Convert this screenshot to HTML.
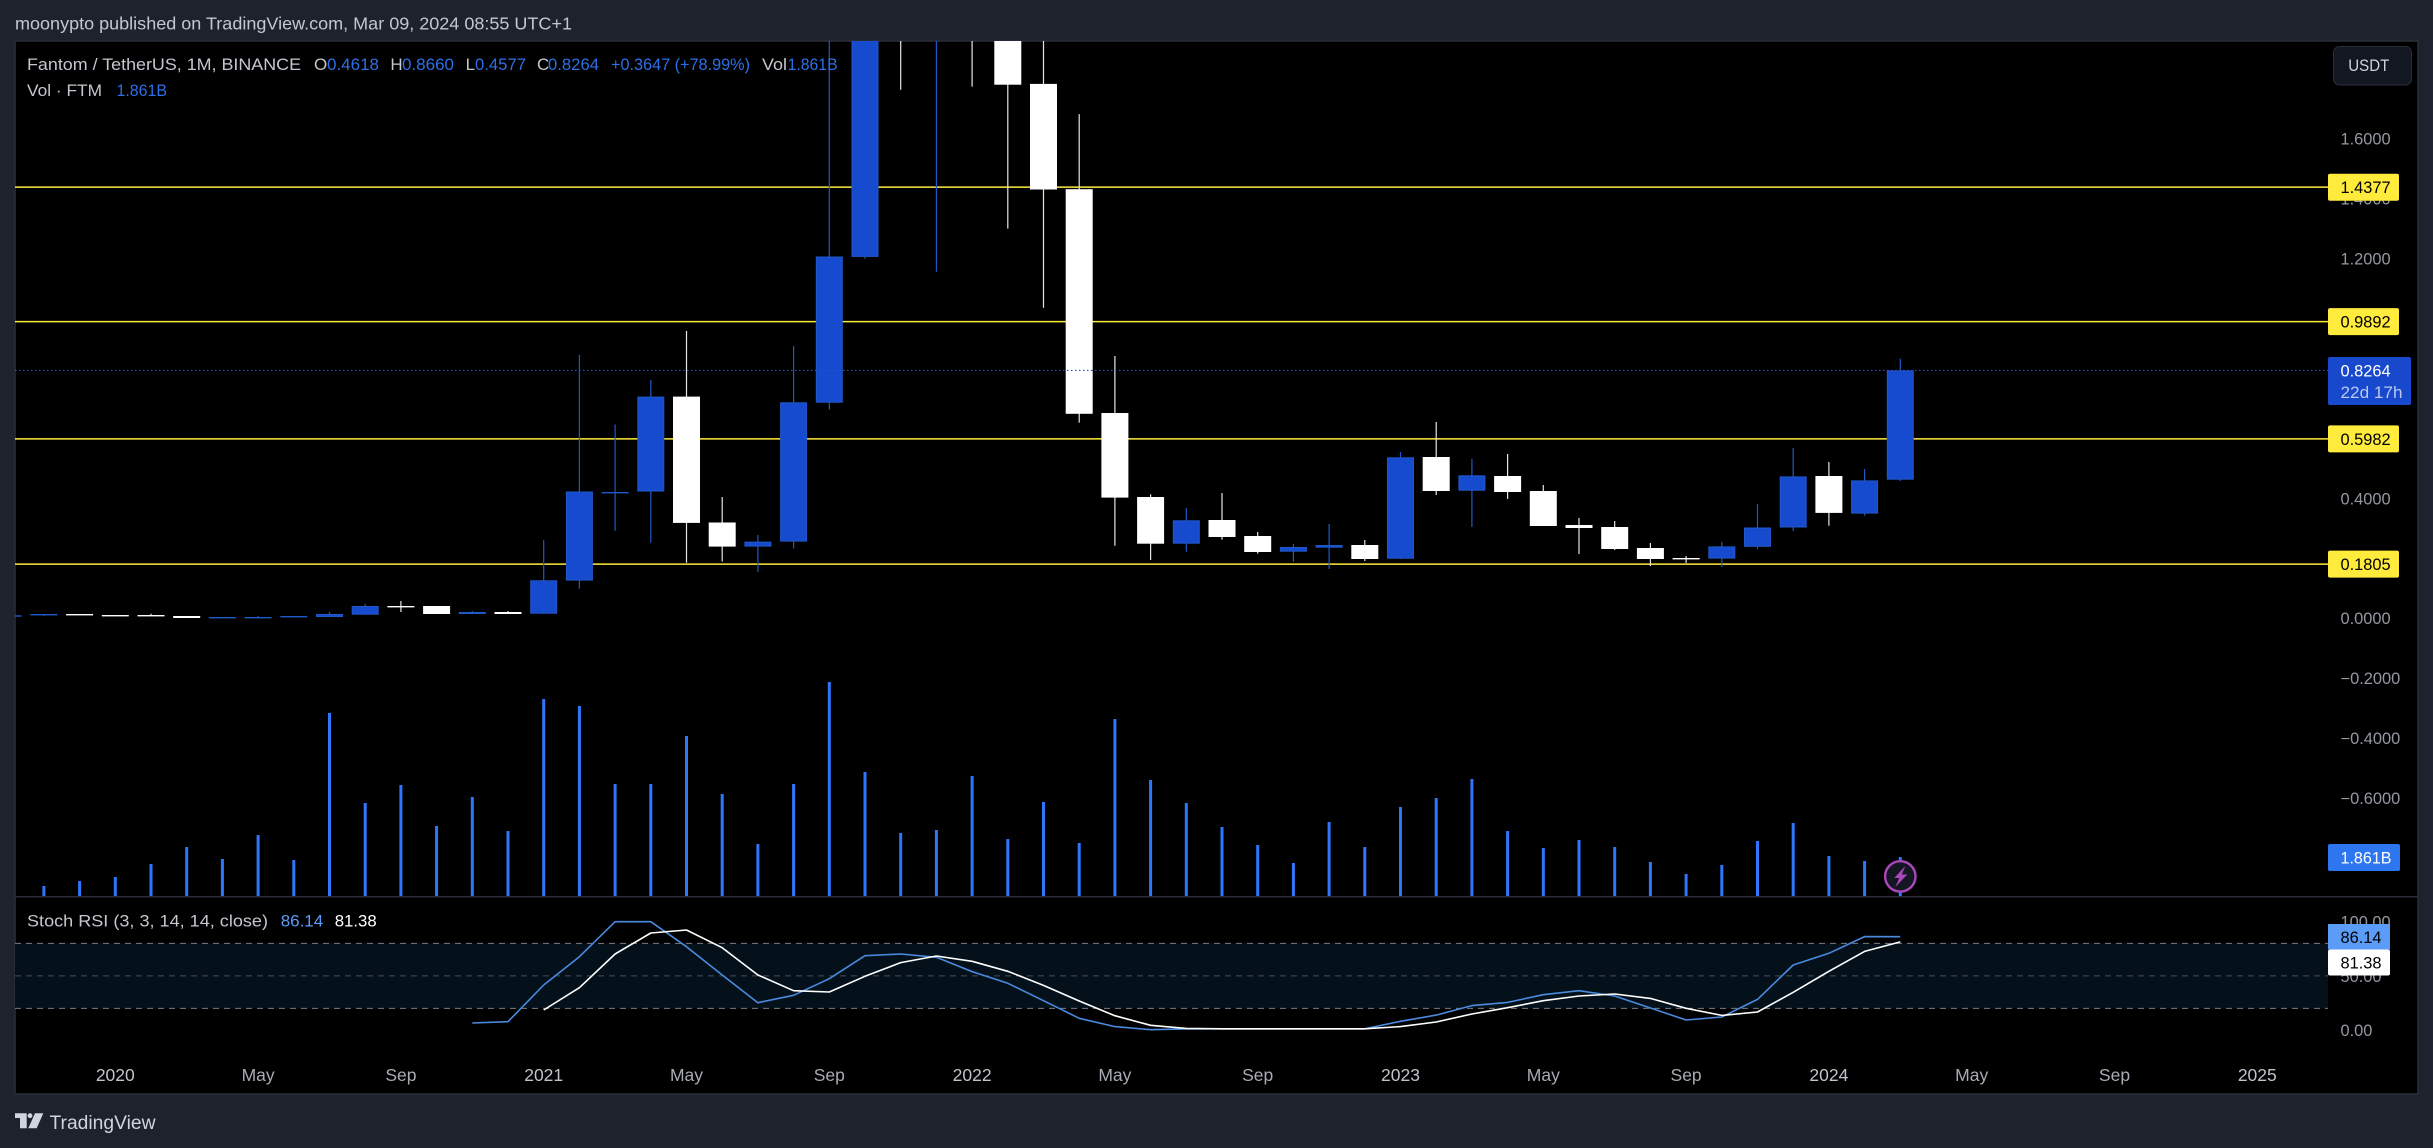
<!DOCTYPE html>
<html lang="en">
<head>
<meta charset="utf-8">
<title>Fantom / TetherUS chart</title>
<style>
  html,body{margin:0;padding:0;background:#1e222d;width:2433px;height:1148px;overflow:hidden}
  svg{display:block;font-family:"Liberation Sans",sans-serif}
</style>
</head>
<body>
<svg id="chart" xmlns="http://www.w3.org/2000/svg" width="2433" height="1148" viewBox="0 0 2433 1148">
  <defs>
    <clipPath id="pane-clip"><rect x="15" y="41" width="2313" height="855"></rect></clipPath>
  </defs>
  <rect x="0" y="0" width="2433" height="1148" fill="#1e222d"></rect>
  <text x="15" y="29.5" font-size="17.5" fill="#c4c7ce" textLength="557" lengthAdjust="spacingAndGlyphs">moonypto published on TradingView.com, Mar 09, 2024 08:55 UTC+1</text>
  <rect x="15" y="41" width="2403" height="1053" fill="#000" stroke="#2a2e39" stroke-width="1.5"></rect>
  <rect x="15" y="896" width="2403" height="1.5" fill="#2a2e39"></rect>

  <g id="stoch-layer"></g>
  <g id="main-layer" clip-path="url(#pane-clip)"></g>
  <g id="axis-layer"></g>
  <g id="label-layer"></g>

  <g font-size="17">
    <text x="27" y="70" fill="#c4c7ce" textLength="274" lengthAdjust="spacingAndGlyphs">Fantom / TetherUS, 1M, BINANCE</text>
    <text x="314" y="70" fill="#c4c7ce">O</text>
    <text x="327" y="70" fill="#2e6fe6" textLength="52" lengthAdjust="spacingAndGlyphs">0.4618</text>
    <text x="390.4" y="70" fill="#c4c7ce">H</text>
    <text x="402" y="70" fill="#2e6fe6" textLength="52" lengthAdjust="spacingAndGlyphs">0.8660</text>
    <text x="465.6" y="70" fill="#c4c7ce">L</text>
    <text x="475" y="70" fill="#2e6fe6" textLength="51" lengthAdjust="spacingAndGlyphs">0.4577</text>
    <text x="537" y="70" fill="#c4c7ce">C</text>
    <text x="548" y="70" fill="#2e6fe6" textLength="51" lengthAdjust="spacingAndGlyphs">0.8264</text>
    <text x="611" y="70" fill="#2e6fe6" textLength="139" lengthAdjust="spacingAndGlyphs">+0.3647 (+78.99%)</text>
    <text x="762" y="70" fill="#c4c7ce" textLength="25" lengthAdjust="spacingAndGlyphs">Vol</text>
    <text x="787.6" y="70" fill="#2e6fe6" textLength="50" lengthAdjust="spacingAndGlyphs">1.861B</text>
    <text x="27" y="96" fill="#c4c7ce" textLength="75" lengthAdjust="spacingAndGlyphs">Vol · FTM</text>
    <text x="116.5" y="96" fill="#2e6fe6" textLength="50.5" lengthAdjust="spacingAndGlyphs">1.861B</text>
  </g>
  <g font-size="17">
    <text x="27" y="926.5" fill="#c4c7ce" textLength="241" lengthAdjust="spacingAndGlyphs">Stoch RSI (3, 3, 14, 14, close)</text>
    <text x="280.7" y="926.5" fill="#5b9cf6" textLength="42.5" lengthAdjust="spacingAndGlyphs">86.14</text>
    <text x="334.7" y="926.5" fill="#ffffff" textLength="42" lengthAdjust="spacingAndGlyphs">81.38</text>
  </g>

  <g>
    <rect x="2333.5" y="46.5" width="78" height="38.5" rx="6" fill="#131722" stroke="#2a2e39" stroke-width="1"></rect>
    <text x="2348.3" y="71" font-size="17" fill="#d1d4dc" textLength="41" lengthAdjust="spacingAndGlyphs">USDT</text>
  </g>

  <g>
    <polygon points="15,1113.3 26.7,1113.3 26.7,1128.3 20,1128.3 20,1118 15,1118" fill="#d1d4dc"></polygon>
    <circle cx="30" cy="1115.7" r="2.4" fill="#d1d4dc"></circle>
    <polygon points="43.3,1113.3 36.7,1128.3 28.3,1128.3 35,1113.3" fill="#d1d4dc"></polygon>
    <text x="49.5" y="1129" font-size="19" fill="#d1d4dc" textLength="106" lengthAdjust="spacingAndGlyphs">TradingView</text>
  </g>
</svg>

<script>
// ---- chart data ----
const categories = ["2019-10","2019-11","2019-12","2020-01","2020-02","2020-03","2020-04","2020-05","2020-06","2020-07","2020-08","2020-09","2020-10","2020-11","2020-12","2021-01","2021-02","2021-03","2021-04","2021-05","2021-06","2021-07","2021-08","2021-09","2021-10","2021-11","2021-12","2022-01","2022-02","2022-03","2022-04","2022-05","2022-06","2022-07","2022-08","2022-09","2022-10","2022-11","2022-12","2023-01","2023-02","2023-03","2023-04","2023-05","2023-06","2023-07","2023-08","2023-09","2023-10","2023-11","2023-12","2024-01","2024-02","2024-03"];
const opens  = [.0087,.0107,.0140,.0107,.0107,.0073,.0007,.0007,.0040,.0040,.0117,.0407,.0407,.0140,.0207,.0150,.1254,.4199,.4226,.7392,.3192,.2388,.2555,.7188,1.2051,2.95,2.05,2.45,2.05,1.7822,1.4310,.6845,.4043,.2485,.3276,.2742,.2218,.2352,.2442,.1985,.5377,.4253,.4743,.4243,.3109,.3042,.2342,.2008,.1988,.2382,.3025,.4743,.3489,.4618];
const highs  = [.0097,.0140,.0140,.0107,.0150,.0073,.0040,.0073,.0073,.0207,.0474,.0574,.0407,.0240,.0240,.2608,.8782,.6461,.7945,.9580,.4043,.2775,.9079,2.2,3.2,3.47,2.6,3.0,2.4,2.05,1.6815,.8746,.4133,.3676,.4176,.2875,.2475,.3142,.2608,.5544,.6544,.5310,.5477,.4443,.3342,.3242,.2508,.2075,.2542,.3809,.5677,.5210,.4977,.8660];
const lows   = [.0087,.0073,.0107,.0073,.0073,.0007,.0007,.0007,.0040,.0040,.0117,.0207,.0140,.0140,.0140,.0140,.0984,.2912,.2515,.1851,.1891,.1544,.2325,.6958,1.1988,1.7629,1.1554,1.7732,1.2995,1.0354,.6524,.2415,.1941,.2218,.2618,.2151,.1885,.1641,.1908,.1975,.4109,.3042,.3976,.3075,.2141,.2275,.1741,.1841,.1708,.2308,.2909,.3085,.3419,.4577];
const closes = [.0097,.0140,.0107,.0073,.0073,.0007,.0040,.0040,.0073,.0140,.0407,.0374,.0140,.0207,.0140,.1264,.4226,.4209,.7392,.3179,.2388,.2555,.7201,1.2065,2.95,2.45,2.45,2.05,1.7795,1.4299,.6818,.4023,.2485,.3266,.2709,.2208,.2375,.2442,.1975,.5367,.4243,.4767,.4209,.3075,.3009,.2308,.1975,.1975,.2395,.3025,.4730,.3512,.4596,.8264];
const volumes = [0,.477,.716,.906,1.527,2.338,1.765,2.910,1.718,8.731,4.437,5.296,3.340,4.723,3.101,9.399,9.065,5.344,5.344,7.634,4.866,2.481,5.344,10.21,5.916,3.006,3.149,5.725,2.719,4.485,2.529,8.445,5.534,4.437,3.292,2.433,1.574,3.531,2.338,4.246,4.676,5.582,3.101,2.290,2.672,2.338,1.622,1.050,1.479,2.624,3.483,1.908,1.670,1.861];
const stochK = [null,null,null,null,null,null,null,null,null,null,null,null,null,6.46,7.70,41.55,67.7,100,100,76.9,50.8,25.2,32.0,47.4,68.6,70.2,67.1,53.9,43.1,27.1,10.8,3.1,.3,1.0,1.1,1.1,1.1,1.1,1.1,8.0,13.8,22.5,25.5,32.6,36.3,31.4,20.3,9.2,12.0,28.3,60.0,70.8,86.2,86.14];
const stochD = [null,null,null,null,null,null,null,null,null,null,null,null,null,null,null,18.5,39.1,70.2,89.6,92.3,76.0,50.8,36.3,35.1,49.6,62.2,68.3,63.4,54.2,41.2,26.8,13.2,4.3,1.5,1.1,1.1,1.1,1.1,1.1,3.1,7.4,14.8,20.6,27.1,31.4,33.2,29.2,20.0,13.5,16.6,34.8,54.2,72.6,81.38];
const levels = [1.4377,0.9892,0.5982,0.1805];
const lastPrice = 0.8264;
const lastVolume = 1.861;
const priceTicks = [1.6,1.4,1.2,0.4,0,-0.2,-0.4,-0.6];
const stochTicks = [100,50,0];
const stochBands = [80,50,20];
const timeLabels = ["2020","May","Sep","2021","May","Sep","2022","May","Sep","2023","May","Sep","2024","May","Sep","2025"];
const timeTickMonths = ["2020-01","2020-05","2020-09","2021-01","2021-05","2021-09","2022-01","2022-05","2022-09","2023-01","2023-05","2023-09","2024-01","2024-05","2024-09","2025-01"];

// ---- axis functions ----
const NS = "http://www.w3.org/2000/svg";
function xAt(month){
  const p = month.split("-");
  return 115.3 + 35.7 * ((+p[0] - 2020) * 12 + (+p[1] - 1));
}
function yPrice(p){ return 618.2 - 299.8 * p; }
function yVolume(v){ return 896 - 20.96 * v; }
function yStoch(v){ return 1030 - 1.083 * v; }
function el(tag, parent, attrs, text){
  const e = document.createElementNS(NS, tag);
  for (const k in attrs) e.setAttribute(k, attrs[k]);
  if (text !== undefined) e.textContent = text;
  parent.appendChild(e);
  return e;
}
const stochLayer = document.getElementById("stoch-layer");
const mainLayer = document.getElementById("main-layer");
const axisLayer = document.getElementById("axis-layer");
const labelLayer = document.getElementById("label-layer");
const UP = "#174bcf", UPEDGE = "#2158c8", DOWN = "#ffffff", VOL = "#2e76fb";

// ---- stoch pane ----
const bandRect = el("rect", stochLayer, {x:15, y:yStoch(stochBands[0]), width:2313, height:yStoch(stochBands[2])-yStoch(stochBands[0]), fill:"#04111a"});


stochBands.forEach(function(b, i){
  const line = el("line", stochLayer, {x1:15, x2:2328, y1:yStoch(b), y2:yStoch(b), stroke:i===1?"#4a4e58":"#787b86", "stroke-width":1, "stroke-dasharray":"6 5"});
  
  
});
function stochPoints(series){
  const pts = [];
  series.forEach(function(v, i){
    if (v !== null) pts.push(xAt(categories[i]).toFixed(1) + "," + yStoch(v).toFixed(1));
  });
  return pts.join(" ");
}
const kLine = el("polyline", stochLayer, {points:stochPoints(stochK), fill:"none", stroke:"#4a8adf", "stroke-width":1.6, "stroke-linejoin":"round"});


const dLine = el("polyline", stochLayer, {points:stochPoints(stochD), fill:"none", stroke:"#ffffff", "stroke-width":1.6, "stroke-linejoin":"round"});



// ---- horizontal levels ----
levels.forEach(function(l){
  const line = el("line", mainLayer, {x1:15, x2:2328, y1:yPrice(l), y2:yPrice(l), stroke:"#ffeb3b", "stroke-width":1.5});
  
  
});

// ---- volume bars ----
volumes.forEach(function(v, i){
  if (v <= 0) return;
  const cx = xAt(categories[i]);
  const top = yVolume(v);
  const bar = el("rect", mainLayer, {x:(cx-1.5).toFixed(1), y:top.toFixed(1), width:3, height:(896-top).toFixed(1), fill:VOL});
  
  
});

// ---- candles ----
categories.forEach(function(m, i){
  const cx = xAt(m);
  const o = opens[i], h = highs[i], l = lows[i], c = closes[i];
  const up = c >= o;
  const wick = el("line", mainLayer, {x1:cx.toFixed(1), x2:cx.toFixed(1), y1:yPrice(h).toFixed(1), y2:yPrice(l).toFixed(1), stroke:up?"#2158c8":"#e6e6e6", "stroke-width":1.2});
  
  
  const top = yPrice(Math.max(o, c));
  const bh = Math.abs(yPrice(o) - yPrice(c));
  const body = el("rect", mainLayer, {x:(cx-13).toFixed(1), y:(top+0.5).toFixed(1), width:26, height:Math.max(bh-1, 0.4).toFixed(1), fill:up?UP:DOWN, stroke:up?UPEDGE:DOWN, "stroke-width":1});
  
  
});

// ---- last price line and marker ----
const lastLine = el("line", mainLayer, {x1:15, x2:2328, y1:yPrice(lastPrice), y2:yPrice(lastPrice), stroke:"#1f56d8", "stroke-width":1.2, "stroke-dasharray":"1.5 2.5"});



const cxLast = xAt(categories[categories.length-1]);
const boltCircle = el("circle", mainLayer, {cx:cxLast, cy:876.4, r:15.2, fill:"#131722", stroke:"#ab47bc", "stroke-width":2.4});


const bolt = el("polygon", mainLayer, {points:[cxLast+5,866, cxLast-6,878, cxLast-1,878, cxLast-5,887, cxLast+7,874.5, cxLast+1.5,874.5].join(","), fill:"#ab47bc"});



// ---- axes ----
priceTicks.forEach(function(t){
  const s = (t < 0 ? "\u2212" : "") + Math.abs(t).toFixed(4);
  const tick = el("text", axisLayer, {x:2340.5, y:yPrice(t)+6, "font-size":16.4, fill:"#9598a1"}, s);
  
  
});
stochTicks.forEach(function(t){
  const tick = el("text", axisLayer, {x:2340.5, y:yStoch(t)+6, "font-size":16.4, fill:"#9598a1"}, t.toFixed(2));
  
  
});
timeLabels.forEach(function(t, i){
  const isYear = /^\d+$/.test(t);
  const tick = el("text", axisLayer, {x:xAt(timeTickMonths[i]), y:1081, "font-size":17.5, "text-anchor":"middle", fill:isYear?"#c0c3ca":"#a8abb3"}, t);
  
  
});

// ---- axis value labels ----
levels.forEach(function(l){
  const y = yPrice(l);
  const box = el("rect", labelLayer, {x:2328, y:(y-13.5).toFixed(1), width:71, height:27, rx:2, fill:"#ffeb3b"});
  
  
  const label = el("text", labelLayer, {x:2340.5, y:(y+6).toFixed(1), "font-size":16.4, fill:"#000"}, l.toFixed(4));
  
  
});
const lastBox = el("rect", labelLayer, {x:2328, y:357, width:83, height:48, rx:2, fill:"#1848cc"});


const lastLabel = el("text", labelLayer, {x:2340.5, y:yPrice(lastPrice)+6, "font-size":16.4, fill:"#fff"}, lastPrice.toFixed(4));


const countdown = el("text", labelLayer, {x:2340.5, y:398, "font-size":16.4, fill:"#b9c9f0", textLength:62, lengthAdjust:"spacingAndGlyphs"}, "22d 17h");



const volBox = el("rect", labelLayer, {x:2328, y:844, width:72, height:27, rx:2, fill:"#2e76f0"});


const volLabel = el("text", labelLayer, {x:2340.5, y:863.5, "font-size":16.4, fill:"#fff", textLength:51, lengthAdjust:"spacingAndGlyphs"}, lastVolume.toFixed(3) + "B");



const kBox = el("rect", labelLayer, {x:2328, y:924, width:62, height:25.5, fill:"#5b9cf6"});


const kLabel = el("text", labelLayer, {x:2340.5, y:943, "font-size":16.4, fill:"#000"}, stochK[stochK.length-1].toFixed(2));


const dBox = el("rect", labelLayer, {x:2328, y:949.5, width:62, height:26, rx:2, fill:"#fff"});


const dLabel = el("text", labelLayer, {x:2340.5, y:968.5, "font-size":16.4, fill:"#000"}, stochD[stochD.length-1].toFixed(2));


</script>
</body>
</html>
